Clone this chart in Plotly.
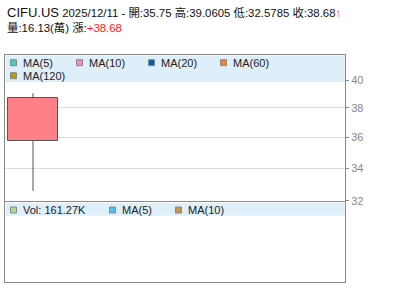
import math
import plotly.graph_objects as go

# ---- data ----
symbol = "CIFU.US"
dates = ["2025/12/11"]
opens = [35.75]
highs = [39.0605]
lows = [32.5785]
closes = [38.68]
volume_k = [161.27]          # thousand shares
volume_wan = [16.13]         # 萬
change = [38.68]
price_ticks = [32, 34, 36, 38, 40]
ma_price_labels = ["MA(5)", "MA(10)", "MA(20)", "MA(60)", "MA(120)"]
ma_price_colors = ["#40D0C8", "#FF88B4", "#0060B0", "#FF8020", "#B0A000"]
vol_labels = ["Vol: %.2fK" % volume_k[0], "MA(5)", "MA(10)"]
vol_colors = ["#A0E088", "#50C0F0", "#C8924A"]

W, H = 400, 301
ML, MR, MT, MB = 5, 55, 55, 19
PW, PH = W - ML - MR, H - MT - MB


def xp(px):
    return (px - ML) / PW


def yp(py):
    return (H - MB - py) / PH


FONT = "Liberation Sans, Arial, Noto Sans CJK TC, sans-serif"
GRID = "#DDDDDD"
BORDER = "#888888"

fig = go.Figure()

xs = list(range(len(dates)))
# wick (split so the body covers the middle)
for i in xs:
    lo_body = min(opens[i], closes[i])
    hi_body = max(opens[i], closes[i])
    fig.add_trace(go.Scatter(
        x=[i, i, None, i, i],
        y=[lows[i], lo_body, None, hi_body, highs[i]],
        mode="lines", line=dict(color="#555555", width=1),
        hoverinfo="skip", showlegend=False, xaxis="x", yaxis="y"))

fig.add_trace(go.Bar(
    x=xs,
    y=[c - o for o, c in zip(opens, closes)],
    base=opens,
    width=0.9,
    marker=dict(color="#FF8088", line=dict(color="#555555", width=1)),
    showlegend=False, xaxis="x", yaxis="y"))

# empty trace so the volume panel's axes/frame are drawn
fig.add_trace(go.Scatter(x=[], y=[], mode="lines", showlegend=False,
                         hoverinfo="skip", xaxis="x2", yaxis="y2"))

lower_dom = [0, 0.353]
upper_dom = [0.358, 1]

fig.update_layout(
    width=W, height=H,
    margin=dict(l=ML, r=MR, t=MT, b=MB),
    paper_bgcolor="white", plot_bgcolor="white",
    font=dict(family=FONT, size=11, color="#222222"),
    showlegend=False,
    bargap=0,
    xaxis=dict(domain=[0, 1], range=[-0.5, 5.57], showgrid=False, zeroline=False,
               showticklabels=False, ticks="", showline=True, mirror=True,
               linecolor=BORDER, linewidth=1, anchor="y"),
    yaxis=dict(domain=upper_dom, type="log", side="right",
               range=[math.log10(32), math.log10(41.92)],
               tickvals=price_ticks, ticktext=[str(t) for t in price_ticks],
               showgrid=True, gridcolor=GRID, gridwidth=1, zeroline=False,
               ticks="outside", ticklen=3, tickcolor=BORDER,
               tickfont=dict(size=11, color="#888888", family=FONT),
               showline=True, mirror=True, linecolor=BORDER, linewidth=1,
               anchor="x"),
    xaxis2=dict(domain=[0, 1], range=[-0.5, 5.57], showgrid=False, zeroline=False,
                showticklabels=False, ticks="", showline=True, mirror=True,
                linecolor=BORDER, linewidth=1, anchor="y2"),
    yaxis2=dict(domain=lower_dom, range=[0, 1], showgrid=False, zeroline=False,
                showticklabels=False, ticks="", showline=True, mirror=True,
                linecolor=BORDER, linewidth=1, anchor="x2", side="right"),
)

shapes = []
annots = []
BAND = "#DFEFFA"
# legend bands
shapes.append(dict(type="rect", xref="paper", yref="paper",
                   x0=xp(5.8), x1=xp(344.6), y0=yp(82), y1=yp(55.6),
                   fillcolor=BAND, line=dict(width=0), layer="above"))
shapes.append(dict(type="rect", xref="paper", yref="paper",
                   x0=xp(5.8), x1=xp(344.6), y0=yp(215.7), y1=yp(203),
                   fillcolor=BAND, line=dict(width=0), layer="above"))


def legend_item(px, py, color, label):
    shapes.append(dict(type="rect", xref="paper", yref="paper",
                       x0=xp(px), x1=xp(px + 6), y0=yp(py + 3), y1=yp(py - 3),
                       fillcolor=color, line=dict(color=BORDER, width=1),
                       layer="above"))
    annots.append(dict(xref="paper", yref="paper", x=xp(px + 10), y=yp(py),
                       xanchor="left", yanchor="middle", showarrow=False,
                       text=label, font=dict(size=11, color="#222222", family=FONT)))


pos_upper = [(10.5, 62.7), (76.5, 62.7), (148.5, 62.7), (220.5, 62.7), (10.5, 75.7)]
for (px, py), c, lab in zip(pos_upper, ma_price_colors, ma_price_labels):
    legend_item(px, py, c, lab)
pos_lower = [(10.5, 210), (109.5, 210), (175.5, 210)]
for (px, py), c, lab in zip(pos_lower, vol_colors, vol_labels):
    legend_item(px, py, c, lab)

line1 = (f'<span style="font-size:13px">{symbol}</span> {dates[0]} - '
         f'開:{opens[0]:g} 高:{highs[0]:g} 低:{lows[0]:g} 收:{closes[0]:g}'
         f'<span style="color:#FF2020;font-weight:bold">↑</span>')
line2 = (f'量:{volume_wan[0]:.2f}(萬) 漲:'
         f'<span style="color:#FF2020">+{change[0]:.2f}</span>')
annots.append(dict(xref="paper", yref="paper", x=xp(5), y=yp(13),
                   xanchor="left", yanchor="middle", showarrow=False,
                   text=line1, font=dict(size=11.4, color="#111111", family=FONT)))
annots.append(dict(xref="paper", yref="paper", x=xp(5), y=yp(27.5),
                   xanchor="left", yanchor="middle", showarrow=False,
                   text=line2, font=dict(size=11.4, color="#111111", family=FONT)))

fig.update_layout(shapes=shapes, annotations=annots)
fig.write_html("out.html")
